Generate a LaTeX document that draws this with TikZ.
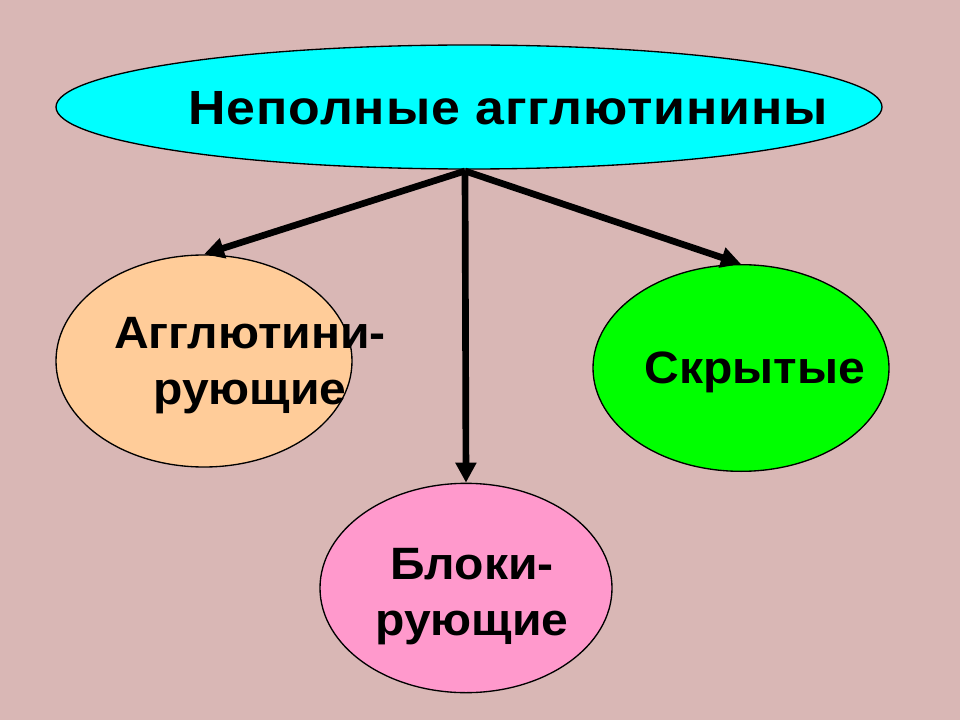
\documentclass[tikz,border=0pt]{standalone}
\usepackage{fontspec}
\setmainfont{Liberation Sans}
\newfontfamily\topfont[FakeStretch=1.08,LetterSpace=2]{Liberation Sans}
\newfontfamily\ovalfont[FakeStretch=1.06]{Liberation Sans}
\usetikzlibrary{shapes.geometric,arrows.meta}
\definecolor{bgpink}{RGB}{217,183,181}
\definecolor{topcyan}{RGB}{0,255,255}
\definecolor{peach}{RGB}{255,204,153}
\definecolor{brightgreen}{RGB}{0,255,0}
\definecolor{candy}{RGB}{255,153,204}
\tikzset{
  x=0.75pt, y=-0.75pt,
  oval/.style={ellipse, draw=black, line width=1pt, inner sep=0pt},
  lbl/.style={font=\ovalfont\bfseries\fontsize{34}{42}\selectfont, align=center, inner sep=0pt},
  toplbl/.style={font=\topfont\bfseries\fontsize{36}{42}\selectfont, inner sep=0pt},
  arr/.style={line width=5pt, -{Triangle[length=15pt,width=15pt]}}
}
\begin{document}
\begin{tikzpicture}
\fill[bgpink] (0,0) rectangle (960,720);
\useasboundingbox (0,0) rectangle (960,720);
\node[oval, fill=topcyan, minimum width=619.5pt, minimum height=93pt] (top) at (469,107) {};
\node[oval, fill=peach, minimum width=222pt, minimum height=159pt] (left) at (204,361) {};
\node[oval, fill=brightgreen, minimum width=222pt, minimum height=155pt] (right) at (741,368) {};
\node[oval, fill=candy, minimum width=219pt, minimum height=157pt] (bottom) at (466,588) {};
\node[toplbl] (ttop) at (508,108) {Неполные агглютинины};
\node[lbl] (tleft) at (250,366) {Агглютини-\\рующие};
\node[lbl] (tright) at (755,372) {Скрытые};
\node[lbl] (tbottom) at (472,597) {Блоки-\\рующие};
\coordinate (hub) at (465,171);
\draw[arr] (hub) -- (left.north);
\draw[arr] (hub) -- (bottom.north);
\draw[arr] (hub) -- (right.north);
\end{tikzpicture}
\end{document}
